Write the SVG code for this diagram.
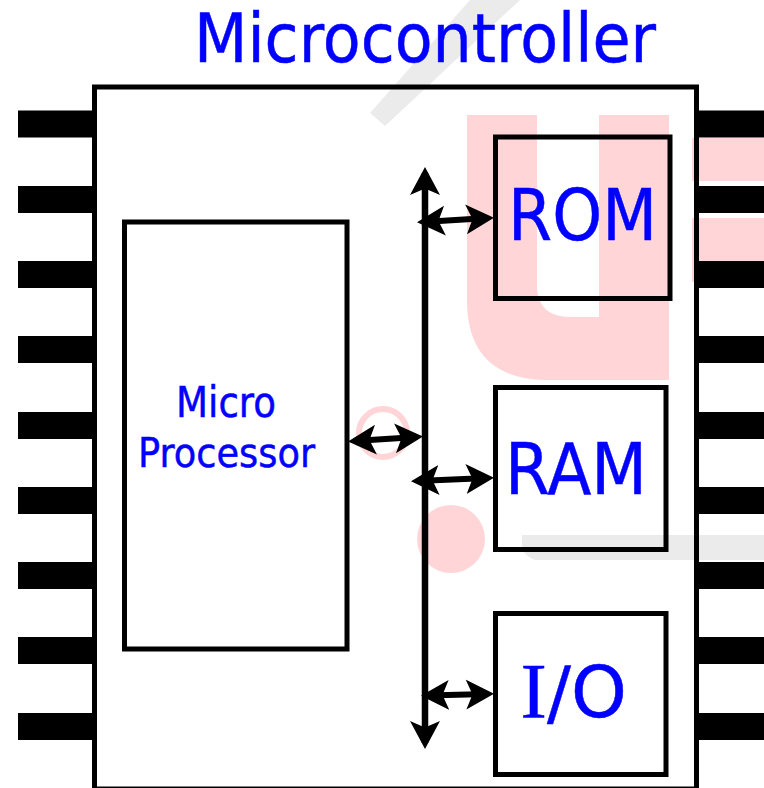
<svg xmlns="http://www.w3.org/2000/svg" width="764" height="788" viewBox="0 0 764 788">
<style>
.box{fill:none;stroke:#000;stroke-width:5}
.pin{fill:#000}
.t{font-family:"DejaVu Sans",sans-serif;fill:#00f;stroke:#00f;stroke-width:.5}
.c{fill:none;stroke:#000;stroke-width:6.5}
.h{stroke-width:6}
.w{fill:#ebebeb}
.p{fill:#ffd5d7}
</style>
<defs>
<marker id="ah" markerUnits="userSpaceOnUse" markerWidth="32" markerHeight="32" refX="22" refY="16" orient="auto-start-reverse"><path d="M0 1L28 16L0 31L6.500 16Z" fill="#000"/></marker>
</defs>
<rect width="764" height="788" fill="#fff"/>
<g id="watermark">
<path class="w" d="M370 113L385 126L520 0H470Z"/>
<path class="w" d="M522 535H764V560H535Q522 555 522 545Z"/>
<path class="p" d="M467 115H537V290Q540 317 570 317H599V115H669V380H545Q467 378 467 300Z"/>
<rect class="p" x="692" y="138" width="72" height="43"/>
<rect class="p" x="692" y="218" width="72" height="64"/>
<circle class="p" cx="451" cy="539" r="34"/>
<circle cx="383" cy="433" r="24" fill="none" stroke="#ffd5d7" stroke-width="6"/>
</g>
<g id="chip">
<rect class="box" x="94.500" y="87" width="602" height="702"/>
</g>
<g id="pins">
<rect class="pin" x="18" y="110.500" width="76" height="27"/>
<rect class="pin" x="18" y="186" width="76" height="27"/>
<rect class="pin" x="18" y="261" width="76" height="27"/>
<rect class="pin" x="18" y="336" width="76" height="27"/>
<rect class="pin" x="18" y="412" width="76" height="27"/>
<rect class="pin" x="18" y="487" width="76" height="27"/>
<rect class="pin" x="18" y="562" width="76" height="27"/>
<rect class="pin" x="18" y="637" width="76" height="27"/>
<rect class="pin" x="18" y="713" width="76" height="27"/>
<rect class="pin" x="697" y="110.500" width="67" height="27"/>
<rect class="pin" x="697" y="186" width="67" height="27"/>
<rect class="pin" x="697" y="261" width="67" height="27"/>
<rect class="pin" x="697" y="336" width="67" height="27"/>
<rect class="pin" x="697" y="412" width="67" height="27"/>
<rect class="pin" x="697" y="487" width="67" height="27"/>
<rect class="pin" x="697" y="562" width="67" height="27"/>
<rect class="pin" x="697" y="637" width="67" height="27"/>
<rect class="pin" x="697" y="713" width="67" height="27"/>
</g>
<text class="t" x="194" y="62" font-size="66.800" textLength="462" lengthAdjust="spacingAndGlyphs">Microcontroller</text>
<g id="microprocessor">
<rect class="box" x="124.500" y="222" width="222.500" height="427"/>
<text class="t" x="176" y="416.500" font-size="42" textLength="100" lengthAdjust="spacingAndGlyphs">Micro</text>
<text class="t" x="138" y="467" font-size="41" textLength="177" lengthAdjust="spacingAndGlyphs">Processor</text>
</g>
<g id="rom">
<rect class="box" x="495.500" y="137" width="174.500" height="161.500"/>
<text class="t" x="508" y="239.500" font-size="71" textLength="149" lengthAdjust="spacingAndGlyphs">ROM</text>
</g>
<g id="ram">
<rect class="box" x="495.500" y="387.500" width="170.500" height="162"/>
<text class="t" x="505" y="494" font-size="71" textLength="142" lengthAdjust="spacingAndGlyphs">RAM</text>
</g>
<g id="io">
<rect class="box" x="495.500" y="613.500" width="170.500" height="161"/>
<text class="t" y="717" font-size="71"><tspan x="520.500" font-family="Liberation Serif" font-size="79">I</tspan><tspan x="547">/O</tspan></text>
</g>
<g id="connectors">
<line class="c" x1="425" y1="173" x2="425" y2="743" marker-start="url(#ah)" marker-end="url(#ah)"/>
<line class="c h" x1="423" y1="222" x2="488" y2="218" marker-start="url(#ah)" marker-end="url(#ah)"/>
<line class="c h" x1="354" y1="441" x2="417" y2="437" marker-start="url(#ah)" marker-end="url(#ah)"/>
<line class="c h" x1="417" y1="481" x2="488" y2="478" marker-start="url(#ah)" marker-end="url(#ah)"/>
<line class="c h" x1="427" y1="695.500" x2="488" y2="694" marker-start="url(#ah)" marker-end="url(#ah)"/>
</g>
</svg>
